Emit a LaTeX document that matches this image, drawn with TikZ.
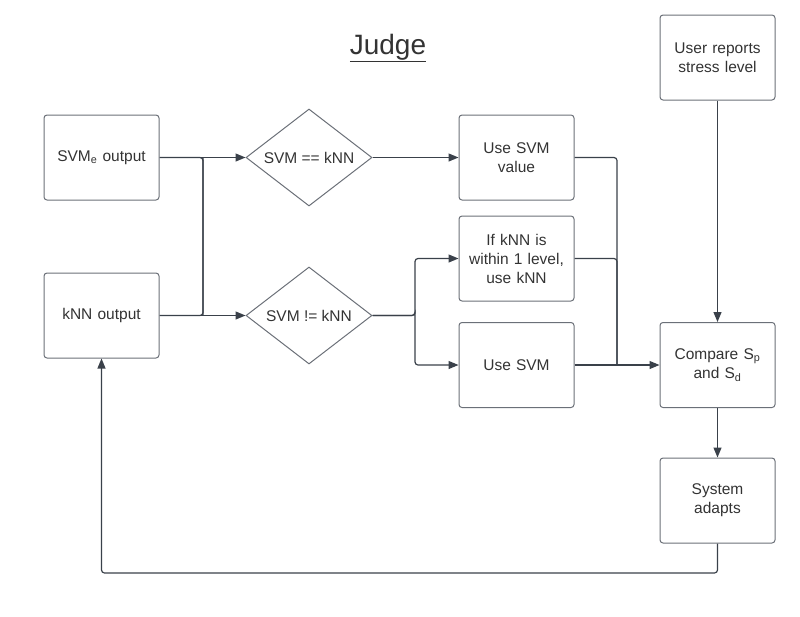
\documentclass[tikz,border=0pt]{standalone}
\usepackage{fontspec}
\setmainfont{Liberation Sans}
\usetikzlibrary{arrows.meta,shapes.geometric}
\definecolor{linec}{HTML}{3A414A}
\definecolor{boxc}{HTML}{6B7078}
\definecolor{txtc}{HTML}{333333}
\tikzset{
  x=1pt,y=-1pt,
  box/.style={draw=boxc,line width=1pt,rounded corners=3pt,minimum width=115pt,minimum height=85pt,
    align=center,text=txtc,font=\fontsize{15.5}{19}\selectfont,inner sep=2pt,text width=107pt},
  dia/.style={draw=boxc,line width=1pt,diamond,aspect=1.3,minimum width=126pt,minimum height=97pt,
    inner sep=0pt,text=txtc,font=\fontsize{15.5}{19}\selectfont,align=center},
  conn/.style={draw=linec,line width=1.2pt,rounded corners=3pt},
  arr/.style={conn,-{Triangle[length=10pt,width=8pt]}},
}
\begin{document}
\begin{tikzpicture}
\useasboundingbox (0,0) rectangle (800,616);
\node[text=txtc,font=\fontsize{28}{32}\selectfont] (title) at (388,48) {\underline{Judge}};
\node[box] (svme) at (101.5,157.5) {SVM\textsubscript{e} output};
\node[box] (knn) at (101.5,315.5) {kNN output};
\node[dia] (eq) at (309,157.5) {SVM == kNN};
\node[dia] (neq) at (309,315.5) {SVM != kNN};
\node[box] (usev) at (516.5,157.5) {Use SVM\\value};
\node[box] (ifk) at (516.5,258.5) {If kNN is\\within 1 level,\\use kNN};
\node[box] (uses) at (516.5,365) {Use SVM};
\node[box] (cmp) at (717.5,365) {Compare S\textsubscript{p}\\and S\textsubscript{d}};
\node[box] (user) at (717.5,57.5) {User reports\\stress level};
\node[box] (sys) at (717.5,500.5) {System\\adapts};
\coordinate (j1) at (203,157.5);
\coordinate (j2) at (203,315.5);
\coordinate (s1) at (415,315.5);
\coordinate (m1) at (617,157.5);
\coordinate (m2) at (617,258.5);
\coordinate (m3) at (617,365);
\coordinate (lb) at (717.5,573);
\coordinate (ll) at (101.5,573);
% inputs
\draw[arr] (svme.east) -- (eq.west);
\draw[conn] (svme.east) -| (j2);
\draw[arr] (knn.east) -- (neq.west);
\draw[conn] (knn.east) -| (j1);
% diamonds
\draw[arr] (eq.east) -- (usev.west);
\draw[arr] (neq.east) -| (s1) |- (ifk.west);
\draw[arr] (neq.east) -| (s1) |- (uses.west);
% merge
\draw[conn] (usev.east) -| (m3);
\draw[conn] (ifk.east) -| (m3);
\draw[arr] (uses.east) -- (cmp.west);
% right column
\draw[arr] (user.south) -- (cmp.north);
\draw[arr] (cmp.south) -- (sys.north);
\draw[arr] (sys.south) -- (lb) -- (ll) -- (knn.south);
\end{tikzpicture}
\end{document}
